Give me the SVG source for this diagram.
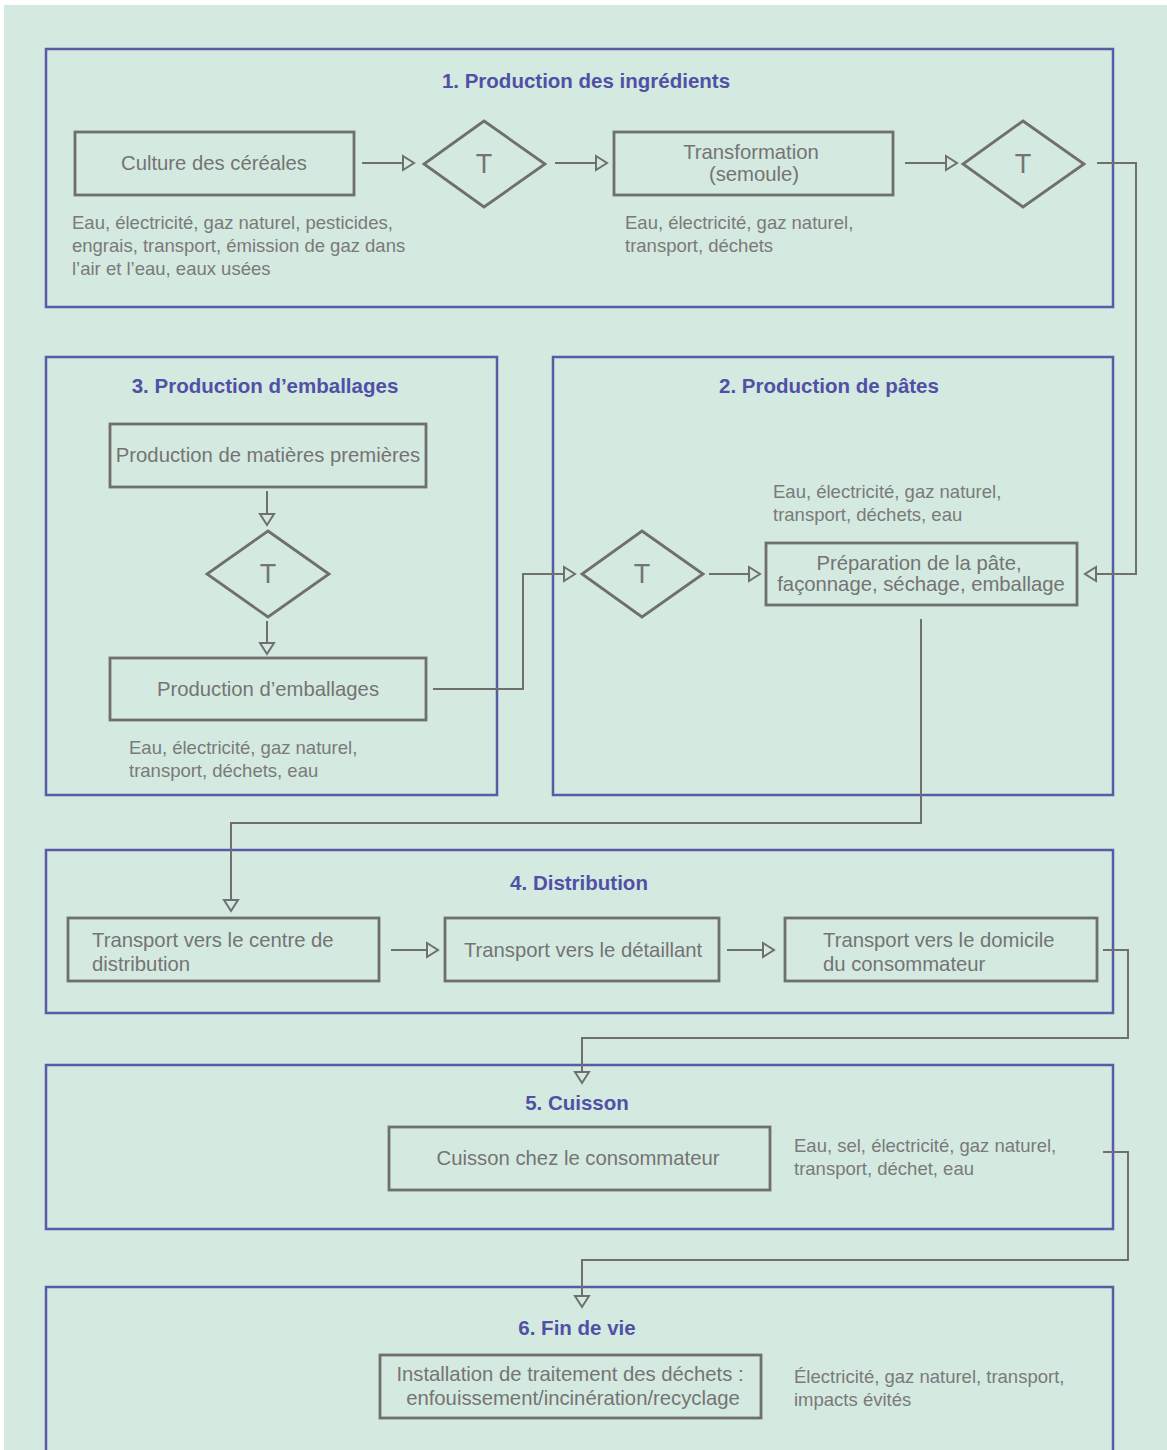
<svg xmlns="http://www.w3.org/2000/svg" width="1167" height="1450" viewBox="0 0 1167 1450">
<defs>
<style>
.frame{fill:none;stroke:#5a5aa6;stroke-width:2.5}
.box{fill:none;stroke:#6f6f6f;stroke-width:2.8}
.dia{fill:none;stroke:#6f6f6f;stroke-width:2.8;stroke-linejoin:miter}
.con{fill:none;stroke:#6f6f6f;stroke-width:2}
.title{font-family:"Liberation Sans",Arial,sans-serif;font-weight:bold;font-size:20.5px;fill:#5050a6;text-anchor:middle}
.lbl{font-family:"Liberation Sans",Arial,sans-serif;font-size:20.3px;fill:#747474}
.c{text-anchor:middle}
.note{font-family:"Liberation Sans",Arial,sans-serif;font-size:18.5px;fill:#7a7a7a}
.t{font-family:"Liberation Sans",Arial,sans-serif;font-size:27px;fill:#747474;text-anchor:middle}
</style>
<marker id="ah" markerUnits="userSpaceOnUse" markerWidth="14" markerHeight="16" refX="11" refY="7" orient="auto" overflow="visible">
<path d="M0,0 L11,7 L0,14 Z" fill="#d4e9e0" stroke="#6f6f6f" stroke-width="2"/>
</marker>
</defs>
<rect x="0" y="0" width="1167" height="1450" fill="#ffffff"/>
<rect x="4" y="5" width="1163" height="1445" fill="#d4e9e0"/>

<g id="sec1">
<rect class="frame" x="46" y="49" width="1067" height="258"/>
<text class="title" x="586" y="88">1. Production des ingrédients</text>
</g>
<g id="sec3">
<rect class="frame" x="46" y="357" width="451" height="438"/>
<text class="title" x="265" y="393">3. Production d’emballages</text>
</g>
<g id="sec2">
<rect class="frame" x="553" y="357" width="560" height="438"/>
<text class="title" x="829" y="393">2. Production de pâtes</text>
</g>
<g id="sec4">
<rect class="frame" x="46" y="850" width="1067" height="163"/>
<text class="title" x="579" y="890">4. Distribution</text>
</g>
<g id="sec5">
<rect class="frame" x="46" y="1065" width="1067" height="164"/>
<text class="title" x="577" y="1110">5. Cuisson</text>
</g>
<g id="sec6">
<rect class="frame" x="46" y="1287" width="1067" height="170"/>
<text class="title" x="577" y="1335">6. Fin de vie</text>
</g>

<g id="n-culture">
<rect class="box" x="75" y="132" width="279" height="63"/>
<text class="lbl c" x="214" y="170">Culture des céréales</text>
<text class="note" x="72" y="229">Eau, électricité, gaz naturel, pesticides,</text>
<text class="note" x="72" y="252">engrais, transport, émission de gaz dans</text>
<text class="note" x="72" y="275">l’air et l’eau, eaux usées</text>
</g>
<g id="n-t1">
<polygon class="dia" points="484,121 545,164 484,207 424,164"/>
<text class="t" x="484" y="173">T</text>
</g>
<g id="n-transfo">
<rect class="box" x="614" y="132" width="279" height="63"/>
<text class="lbl c" x="751" y="159">Transformation</text>
<text class="lbl c" x="754" y="181">(semoule)</text>
<text class="note" x="625" y="229">Eau, électricité, gaz naturel,</text>
<text class="note" x="625" y="252">transport, déchets</text>
</g>
<g id="n-t2">
<polygon class="dia" points="1023,121 1084,164 1023,207 963,164"/>
<text class="t" x="1023" y="173">T</text>
</g>

<g id="n-matieres">
<rect class="box" x="110" y="424" width="316" height="63"/>
<text class="lbl c" x="268" y="462">Production de matières premières</text>
</g>
<g id="n-t3">
<polygon class="dia" points="268,531 329,574 268,617 207,574"/>
<text class="t" x="268" y="583">T</text>
</g>
<g id="n-emb">
<rect class="box" x="110" y="658" width="316" height="62"/>
<text class="lbl c" x="268" y="696">Production d’emballages</text>
<text class="note" x="129" y="754">Eau, électricité, gaz naturel,</text>
<text class="note" x="129" y="777">transport, déchets, eau</text>
</g>

<g id="n-t4">
<polygon class="dia" points="642,531 703,574 642,617 582,574"/>
<text class="t" x="642" y="583">T</text>
</g>
<g id="n-prep">
<text class="note" x="773" y="498">Eau, électricité, gaz naturel,</text>
<text class="note" x="773" y="521">transport, déchets, eau</text>
<rect class="box" x="766" y="543" width="311" height="62"/>
<text class="lbl c" x="919" y="570">Préparation de la pâte,</text>
<text class="lbl c" x="921" y="591">façonnage, séchage, emballage</text>
</g>

<g id="n-d1">
<rect class="box" x="68" y="918" width="311" height="63"/>
<text class="lbl" x="92" y="947">Transport vers le centre de</text>
<text class="lbl" x="92" y="971">distribution</text>
</g>
<g id="n-d2">
<rect class="box" x="445" y="918" width="274" height="63"/>
<text class="lbl c" x="583" y="957">Transport vers le détaillant</text>
</g>
<g id="n-d3">
<rect class="box" x="785" y="918" width="312" height="63"/>
<text class="lbl" x="823" y="947">Transport vers le domicile</text>
<text class="lbl" x="823" y="971">du consommateur</text>
</g>

<g id="n-cuisson">
<rect class="box" x="389" y="1127" width="381" height="63"/>
<text class="lbl c" x="578" y="1165">Cuisson chez le consommateur</text>
<text class="note" x="794" y="1152">Eau, sel, électricité, gaz naturel,</text>
<text class="note" x="794" y="1175">transport, déchet, eau</text>
</g>

<g id="n-fin">
<rect class="box" x="380" y="1355" width="381" height="63"/>
<text class="lbl c" x="570" y="1381">Installation de traitement des déchets :</text>
<text class="lbl c" x="573" y="1405">enfouissement/incinération/recyclage</text>
<text class="note" x="794" y="1383">Électricité, gaz naturel, transport,</text>
<text class="note" x="794" y="1406">impacts évités</text>
</g>

<g id="connectors">
<path class="con" d="M362,163 H414" marker-end="url(#ah)"/>
<path class="con" d="M555,163 H607" marker-end="url(#ah)"/>
<path class="con" d="M905,163 H957" marker-end="url(#ah)"/>
<path class="con" d="M1097,163 H1136 V574 H1085" marker-end="url(#ah)"/>
<path class="con" d="M267,491 V525" marker-end="url(#ah)"/>
<path class="con" d="M267,621 V654" marker-end="url(#ah)"/>
<path class="con" d="M433,689 H523 V574 H575" marker-end="url(#ah)"/>
<path class="con" d="M709,574 H760" marker-end="url(#ah)"/>
<path class="con" d="M921,619 V823 H231 V911" marker-end="url(#ah)"/>
<path class="con" d="M391,950 H438" marker-end="url(#ah)"/>
<path class="con" d="M727,950 H774" marker-end="url(#ah)"/>
<path class="con" d="M1103,950 H1128 V1038 H582 V1083" marker-end="url(#ah)"/>
<path class="con" d="M1103,1152 H1128 V1260 H582 V1307" marker-end="url(#ah)"/>
</g>
</svg>
